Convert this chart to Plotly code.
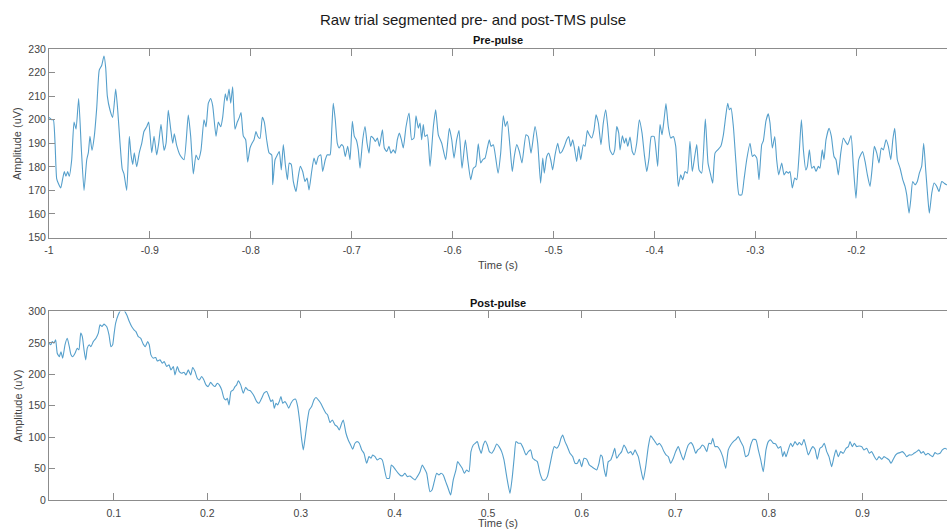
import plotly.graph_objects as go

# ---------------- data ----------------
pre_t = [
    -1.0, -0.9973, -0.9957, -0.994, -0.9924, -0.9908, -0.9884, -0.9864, -0.9848, -0.9832,
    -0.9815, -0.9799, -0.9775, -0.9752, -0.9732, -0.9706, -0.968, -0.9653, -0.9626, -0.961,
    -0.9594, -0.9574, -0.9551, -0.9527, -0.9502, -0.9478, -0.9455, -0.9438, -0.9422, -0.9395,
    -0.9369, -0.9339, -0.9319, -0.9296, -0.9274, -0.9257, -0.923, -0.9204, -0.9187, -0.917,
    -0.9155, -0.9131, -0.9105, -0.9081, -0.9059, -0.9032, -0.9012, -0.8982, -0.8959, -0.8933,
    -0.8913, -0.889, -0.886, -0.884, -0.8818, -0.8794, -0.8774, -0.8758, -0.8734, -0.8702,
    -0.8662, -0.862, -0.8596, -0.857, -0.8543, -0.852, -0.8494, -0.8464, -0.8444, -0.8421,
    -0.8398, -0.8378, -0.8345, -0.8322, -0.8298, -0.8279, -0.8253, -0.8236, -0.8216, -0.8199,
    -0.818, -0.8157, -0.8134, -0.8114, -0.8097, -0.8074, -0.8051, -0.8031, -0.8008, -0.7988,
    -0.7968, -0.7949, -0.7932, -0.7909, -0.7886, -0.7866, -0.7843, -0.782, -0.7793, -0.7783,
    -0.776, -0.7738, -0.7718, -0.7698, -0.7678, -0.7658, -0.7638, -0.7619, -0.7599, -0.7579,
    -0.7552, -0.7532, -0.751, -0.7486, -0.7463, -0.7443, -0.7423, -0.7397, -0.7374, -0.7354,
    -0.7331, -0.7307, -0.7288, -0.7262, -0.7242, -0.7215, -0.7198, -0.7183, -0.7163, -0.7143,
    -0.7123, -0.7103, -0.7084, -0.7064, -0.704, -0.7017, -0.6994, -0.6974, -0.6955, -0.6935,
    -0.6918, -0.6891, -0.6868, -0.6848, -0.6829, -0.6809, -0.6786, -0.6766, -0.6746, -0.6726,
    -0.6696, -0.6677, -0.6653, -0.6631, -0.6611, -0.6588, -0.6568, -0.6548, -0.6528, -0.6508,
    -0.6489, -0.6462, -0.6432, -0.6406, -0.6383, -0.6363, -0.634, -0.6323, -0.6307, -0.6291,
    -0.6274, -0.6251, -0.6224, -0.6191, -0.6168, -0.6142, -0.6108, -0.6069, -0.6033, -0.6009,
    -0.5986, -0.596, -0.5937, -0.5907, -0.5874, -0.585, -0.5821, -0.5795, -0.5771, -0.5746,
    -0.5722, -0.5702, -0.5679, -0.5656, -0.5637, -0.562, -0.5597, -0.5573, -0.555, -0.5524,
    -0.5498, -0.5478, -0.5458, -0.5432, -0.5409, -0.5389, -0.5365, -0.5339, -0.5313, -0.5273,
    -0.525, -0.5223, -0.5184, -0.5157, -0.5128, -0.5107, -0.5092, -0.5068, -0.5048, -0.5028,
    -0.5009, -0.4985, -0.4959, -0.4936, -0.4916, -0.4893, -0.487, -0.485, -0.483, -0.481,
    -0.479, -0.4771, -0.4751, -0.4731, -0.4705, -0.4688, -0.4665, -0.4646, -0.4622, -0.4599,
    -0.4579, -0.4556, -0.453, -0.4507, -0.4483, -0.4463, -0.4441, -0.4414, -0.4394, -0.4374,
    -0.4354, -0.4341, -0.4318, -0.4298, -0.4282, -0.4265, -0.4242, -0.422, -0.42, -0.4176,
    -0.415, -0.4123, -0.41, -0.4076, -0.4054, -0.4031, -0.4004, -0.3985, -0.3968, -0.3945,
    -0.3925, -0.3905, -0.3886, -0.3863, -0.3839, -0.3813, -0.3789, -0.3764, -0.374, -0.372,
    -0.3697, -0.3674, -0.3648, -0.3625, -0.3601, -0.3581, -0.3558, -0.3532, -0.3496, -0.3469,
    -0.3443, -0.3423, -0.34, -0.3373, -0.3343, -0.3317, -0.3294, -0.3274, -0.3258, -0.3241,
    -0.3218, -0.3192, -0.3162, -0.3135, -0.3113, -0.3086, -0.3053, -0.303, -0.301, -0.2986,
    -0.2964, -0.2937, -0.2921, -0.2895, -0.2872, -0.2855, -0.2832, -0.2808, -0.2789, -0.2769,
    -0.2739, -0.2716, -0.2693, -0.2673, -0.2657, -0.2634, -0.261, -0.259, -0.2567, -0.2544,
    -0.2524, -0.2501, -0.2485, -0.2465, -0.2441, -0.2419, -0.2399, -0.2376, -0.236, -0.2337,
    -0.232, -0.23, -0.227, -0.2247, -0.2221, -0.2201, -0.2178, -0.2154, -0.2128, -0.2109,
    -0.2085, -0.2052, -0.2029, -0.2003, -0.1976, -0.1956, -0.1937, -0.1913, -0.189, -0.1864,
    -0.1841, -0.1821, -0.1797, -0.1775, -0.1752, -0.1732, -0.1705, -0.1682, -0.1658, -0.1638,
    -0.1619, -0.1593, -0.1566, -0.1539, -0.1517, -0.15, -0.1477, -0.146, -0.1441, -0.1418,
    -0.1395, -0.1375, -0.1352, -0.1332, -0.1312, -0.1292, -0.1276, -0.1252, -0.1229, -0.1203,
    -0.118, -0.1153, -0.113, -0.1106, -0.105,
]
pre_v = [
    201, 200, 200, 190, 175, 173, 171, 175, 178, 176,
    178, 176, 183, 199, 196, 209, 188, 170, 183, 186,
    193, 187, 193, 205, 221, 223, 227, 222, 210, 204,
    201, 213, 204, 190, 179, 177, 170, 193, 185, 181,
    186, 180, 186, 190, 195, 197, 199, 186, 193, 185,
    190, 198, 187, 190, 204, 196, 190, 194, 189, 185,
    183, 202, 193, 177, 185, 183, 187, 200, 197, 207,
    209, 206, 193, 199, 197, 201, 211, 208, 213, 207,
    214, 196, 199, 201, 203, 193, 191.5, 182, 188, 190,
    191.5, 195, 193, 192, 201, 199, 191.5, 186, 185, 172.4,
    183, 185, 186.5, 178.7, 189.4, 181, 174.5, 181.6, 181, 173.8,
    169.5, 175.2, 180.2, 178, 173.8, 175.2, 170.2, 178, 183.7, 181,
    184.4, 185.1, 178, 183, 185.1, 185.1, 195.7, 207, 200, 190,
    188, 189.4, 188.7, 184.4, 188.7, 183, 199.3, 192.9, 191.5, 187.2,
    179.4, 191.5, 197.1, 190, 185.8, 192.9, 192.2, 190.8, 192.2, 188.7,
    195.7, 188, 186.5, 188.7, 185.8, 187.2, 185.8, 191.5, 194.3, 191.5,
    188, 197, 202.8, 191.5, 192.2, 201.7, 196.4, 198.6, 191.5, 197.9,
    192.9, 193.6, 180.2, 197.1, 204.2, 193.6, 190, 183, 196.4, 191.5,
    183.7, 191.5, 195.4, 179.4, 191.5, 183, 174.5, 179.4, 180.2, 189.8,
    181.6, 183, 183.7, 188, 191.5, 188.7, 189.4, 183.7, 177.3, 185.8,
    201.7, 197.1, 199.3, 188.7, 178, 184.4, 189.4, 186.5, 181.6, 193.6,
    192.9, 185.8, 197.1, 190, 173.1, 183.7, 177.3, 184.4, 185.8, 183,
    178.7, 185.1, 190, 185.8, 186.5, 188.7, 191.5, 192.9, 188.7, 191.5,
    187.2, 182.3, 188.7, 183, 189.4, 188.7, 195.4, 193.6, 192.2, 195.7,
    202.1, 198.6, 189.4, 198.6, 204.2, 197.1, 187.2, 185.1, 187.2, 197.1,
    194.3, 187.2, 193.2, 190, 192.2, 188.7, 192.6, 186.5, 185.1, 190,
    200, 194.3, 185.1, 178, 183.7, 192.9, 192.9, 187.2, 180.2, 197.9,
    193.6, 200, 206.8, 197.1, 192.2, 192.9, 188.7, 171.7, 176.6, 174.5,
    178, 177.3, 190.8, 178, 184.4, 189.4, 178.7, 177.3, 200.3, 181.6,
    176.6, 173.1, 185.8, 187.2, 188.7, 193.6, 201.4, 207, 204.2, 204.9,
    197.1, 181.6, 168.1, 168.1, 174.5, 183, 190, 184.4, 185.1, 183.7,
    174.5, 189.4, 191, 199.5, 202.5, 198.6, 188, 192.9, 183, 176.6,
    181.6, 176.6, 178, 177.3, 178, 171, 175.2, 174.5, 185.1, 200,
    187.2, 178.7, 180.2, 187.2, 179.4, 180.2, 178, 180.2, 179.4, 187.2,
    183, 191.5, 196.4, 192.9, 184.4, 183, 176.6, 185.8, 192.2, 190.8,
    189.4, 193.3, 180.2, 166.7, 183, 185.1, 186.5, 182.3, 176.6, 171.7,
    180.2, 188.7, 185.8, 181.6, 188, 187.2, 191.5, 188.7, 183, 191.5,
    196.4, 183, 179.4, 174.5, 171.7, 168.1, 160.3, 166, 173.8, 172.4,
    173.8, 177.3, 180.2, 190, 178.7, 167.4, 160.3, 168.8, 173.1, 171.7,
    169.5, 173.8, 173.1, 172.4, 174,
]

post_t = [
    0.0309, 0.0327, 0.0344, 0.0362, 0.038, 0.0397, 0.0419, 0.0437, 0.0455, 0.048,
    0.0504, 0.0526, 0.0544, 0.0562, 0.0587, 0.0611, 0.0629, 0.0648, 0.0665, 0.0683,
    0.0701, 0.0718, 0.0739, 0.0757, 0.0782, 0.0811, 0.0836, 0.0854, 0.0875, 0.0896,
    0.0925, 0.095, 0.0971, 0.0989, 0.1003, 0.1021, 0.1049, 0.1075, 0.111, 0.1139,
    0.1167, 0.1192, 0.1217, 0.1238, 0.1263, 0.1288, 0.1316, 0.1338, 0.1363, 0.138,
    0.1398, 0.1423, 0.1449, 0.1466, 0.1495, 0.1519, 0.154, 0.1566, 0.1591, 0.1612,
    0.1637, 0.1655, 0.168, 0.1701, 0.1727, 0.1751, 0.1772, 0.1797, 0.1823, 0.1844,
    0.1869, 0.1893, 0.1915, 0.194, 0.1964, 0.1986, 0.201, 0.2036, 0.2058, 0.2082,
    0.2107, 0.2128, 0.2154, 0.2178, 0.22, 0.2214, 0.2232, 0.2253, 0.2278, 0.2296,
    0.2314, 0.2331, 0.2357, 0.2385, 0.241, 0.2432, 0.2456, 0.2481, 0.2502, 0.2528,
    0.2552, 0.2581, 0.2606, 0.2635, 0.2659, 0.2681, 0.2699, 0.2716, 0.2734, 0.2752,
    0.2769, 0.2787, 0.2806, 0.283, 0.2848, 0.287, 0.2894, 0.2919, 0.2944, 0.2966,
    0.299, 0.3009, 0.3026, 0.3047, 0.3068, 0.309, 0.3115, 0.314, 0.3161, 0.3186,
    0.3212, 0.3239, 0.3268, 0.3286, 0.3311, 0.3336, 0.3364, 0.3389, 0.341, 0.3436,
    0.3453, 0.3482, 0.3506, 0.3532, 0.3553, 0.3578, 0.3603, 0.3624, 0.365, 0.3674,
    0.3703, 0.3728, 0.3749, 0.3767, 0.3792, 0.3816, 0.3845, 0.387, 0.3891, 0.3917,
    0.3945, 0.3966, 0.3987, 0.4013, 0.4041, 0.4066, 0.4088, 0.4112, 0.4137, 0.4166,
    0.4195, 0.4219, 0.4244, 0.4273, 0.4297, 0.4318, 0.4344, 0.4361, 0.4379, 0.4401,
    0.4425, 0.4451, 0.4475, 0.4497, 0.4521, 0.4547, 0.4568, 0.46, 0.4628, 0.4657,
    0.4675, 0.47, 0.4724, 0.4746, 0.4771, 0.4796, 0.4817, 0.4842, 0.4863, 0.4885,
    0.4906, 0.4927, 0.4949, 0.497, 0.4992, 0.5013, 0.5039, 0.5063, 0.5092, 0.5117,
    0.5145, 0.517, 0.5199, 0.5234, 0.5259, 0.528, 0.5298, 0.5323, 0.5348, 0.5376,
    0.5405, 0.543, 0.5455, 0.5477, 0.5501, 0.5526, 0.5555, 0.5583, 0.5608, 0.5633,
    0.5661, 0.5686, 0.5707, 0.5733, 0.5758, 0.5779, 0.5797, 0.5822, 0.5846, 0.5875,
    0.5904, 0.5929, 0.5953, 0.5975, 0.6, 0.6025, 0.6054, 0.6081, 0.6107, 0.6131,
    0.616, 0.6185, 0.6203, 0.622, 0.6238, 0.626, 0.6284, 0.631, 0.6331, 0.6353,
    0.6374, 0.6399, 0.6427, 0.6452, 0.6473, 0.6498, 0.6524, 0.6545, 0.657, 0.6588,
    0.6605, 0.663, 0.6658, 0.6684, 0.6712, 0.6737, 0.6759, 0.6783, 0.6808, 0.6829,
    0.6855, 0.6879, 0.6901, 0.6925, 0.6951, 0.6979, 0.7004, 0.7032, 0.7058, 0.7086,
    0.7114, 0.7139, 0.7168, 0.7192, 0.7218, 0.724, 0.7264, 0.7289, 0.731, 0.7336,
    0.736, 0.7382, 0.74, 0.7424, 0.7449, 0.7478, 0.7507, 0.7539, 0.7566, 0.7592,
    0.762, 0.7649, 0.7673, 0.7699, 0.7727, 0.7752, 0.778, 0.7806, 0.7833, 0.7862,
    0.7887, 0.7913, 0.794, 0.7969, 0.7994, 0.8019, 0.8047, 0.8073, 0.8101, 0.8126,
    0.8148, 0.8165, 0.8183, 0.8207, 0.8233, 0.8254, 0.8279, 0.8304, 0.8325, 0.8351,
    0.8375, 0.8397, 0.8421, 0.8447, 0.8468, 0.8493, 0.8517, 0.8546, 0.8571, 0.8592,
    0.8618, 0.8642, 0.8671, 0.8696, 0.8717, 0.8742, 0.8767, 0.8795, 0.8824, 0.8849,
    0.8867, 0.8891, 0.8913, 0.8938, 0.8963, 0.8992, 0.9016, 0.9045, 0.9073, 0.9098,
    0.9123, 0.9152, 0.9177, 0.9205, 0.923, 0.9259, 0.9283, 0.9305, 0.9329, 0.9355,
    0.9376, 0.9401, 0.9425, 0.9447, 0.9472, 0.9497, 0.9526, 0.955, 0.9579, 0.9604,
    0.9628, 0.965, 0.9675, 0.97, 0.9721, 0.975, 0.9775, 0.9799, 0.9828, 0.9853,
    0.9882, 0.9903, 0.995,
]
post_v = [
    249.6, 247, 252, 249.6, 255, 233.6, 228, 236, 225.7, 247,
    257.5, 244, 231, 228, 233.6, 241.6, 239, 265.5, 260, 239,
    223, 241.6, 247, 244, 252, 257.5, 265.5, 278.8, 276, 279.8,
    276, 262.8, 244, 247, 262.8, 281.4, 294.7, 302, 302, 294.7,
    284, 276, 270.8, 268, 260, 257.5, 248, 244, 252, 247,
    231, 225.7, 226.7, 221.4, 223, 217.7, 220.4, 212.4, 215, 207,
    212.4, 199, 212.4, 204.4, 201.8, 203.4, 199, 207, 199, 210.8,
    204.4, 193.8, 191, 196.5, 191, 183.2, 180.5, 187.4, 183.2, 180.5,
    185.9, 183.2, 175.2, 162, 159.3, 162, 151.3, 172.6, 175.2, 180.5,
    183.2, 189.6, 183.2, 169.9, 179.5, 175.2, 174.2, 169.9, 164.6, 156.6,
    154, 162, 169.9, 172.6, 164.6, 156.6, 159.3, 146, 154, 151.3,
    156.6, 164.6, 154, 156.6, 152.9, 146, 154, 159.3, 160.4, 148.7,
    122.1, 95.6, 79.7, 100.9, 124.8, 143.4, 148.7, 159.3, 163, 159.3,
    154, 146, 138.1, 135.4, 123.2, 127.4, 119.5, 116.8, 111.5, 122.1,
    127.4, 106.2, 95.6, 87.6, 80.7, 90.3, 92.9, 90.3, 79.7, 74.3,
    58.4, 69, 66.4, 71.7, 69, 63.7, 66.4, 63.7, 50.4, 34.5,
    34.5, 55.8, 53.1, 47.8, 42.5, 38.8, 38.8, 42.5, 37.2, 38.2,
    34.5, 31.9, 37.2, 45.1, 55.8, 50.4, 42.5, 26.6, 13.3, 15.9,
    29.2, 42.5, 39.8, 42.5, 39.8, 29.2, 21.2, 8, 31.9, 47.8,
    61.1, 55.8, 50.4, 42.5, 47.8, 45.1, 77, 87.6, 90.3, 92.9,
    82.3, 74.3, 87.6, 94, 87.6, 77, 74.3, 79.7, 89.2, 85,
    77, 63.7, 37.2, 10.6, 37.2, 69, 92.9, 90.3, 90.3, 82.3,
    71.7, 77, 79.7, 66.4, 63.7, 61.1, 42.5, 31.9, 31.9, 37.2,
    55.8, 74.3, 85, 82.3, 87.6, 98.2, 103.5, 92.9, 85, 74.3,
    69, 58.4, 58.4, 64.8, 53.1, 66.4, 64.8, 55.8, 53.1, 50.4,
    47.8, 58.4, 71.7, 69, 50.4, 37.2, 61.1, 63.7, 71.7, 82.3,
    66.4, 71.7, 77, 87.6, 82.3, 74.3, 77, 71.7, 79.7, 74.3,
    69, 50.4, 31.9, 53.1, 85, 102, 98.2, 92.9, 87.6, 90.3,
    85, 77, 71.7, 69, 58.4, 66.4, 77, 85, 74.3, 63.7,
    77, 87.6, 91.3, 86, 74.3, 79.7, 82.3, 87.6, 85, 77,
    90.3, 89.2, 98.2, 85, 85, 79.7, 69, 50.4, 79.7, 87.6,
    92.9, 96.6, 100.9, 92.9, 85, 69, 71.7, 87.6, 96.6, 95.6,
    79.7, 63.7, 45.1, 79.7, 92.9, 95.6, 90.3, 89.2, 82.3, 85,
    69, 77, 69, 79.7, 90.3, 85, 92.9, 87.6, 91.3, 87.6,
    96.6, 85, 71.7, 79.7, 85, 80.7, 64.8, 82.3, 85, 90.3,
    77, 69, 53.1, 69, 79.7, 69, 77, 74.3, 82.3, 85,
    92.9, 85, 90.3, 85, 86, 85, 79.7, 82.3, 74.3, 77,
    70.1, 63.7, 69, 64.8, 69, 66.4, 63.7, 58.4, 64.8, 71.7,
    74.3, 75.4, 77, 74.3, 69, 71.7, 71.7, 74.3, 77, 79.7,
    74.3, 77, 71.7, 74.3, 71.7, 69, 75.4, 73.2, 74.3, 79.7,
    82.3, 80.7, 79,
]

pre_xticks = [-1, -0.9, -0.8, -0.7, -0.6, -0.5, -0.4, -0.3, -0.2]
pre_xlabels = ["-1", "-0.9", "-0.8", "-0.7", "-0.6", "-0.5", "-0.4", "-0.3", "-0.2"]
pre_yticks = [150, 160, 170, 180, 190, 200, 210, 220, 230]
post_xticks = [0.1, 0.2, 0.3, 0.4, 0.5, 0.6, 0.7, 0.8, 0.9]
post_xlabels = ["0.1", "0.2", "0.3", "0.4", "0.5", "0.6", "0.7", "0.8", "0.9"]
post_yticks = [0, 50, 100, 150, 200, 250, 300]

main_title = "Raw trial segmented pre- and post-TMS pulse"
pre_title = "Pre-pulse"
post_title = "Post-pulse"
x_label = "Time (s)"
y_label = "Amplitude (uV)"

# ---------------- style ----------------
LINE = "#559fcb"
AX = "#8c8c8c"
TXT = "#444444"
FONT = "Liberation Sans, Arial, Helvetica, sans-serif"

fig = go.Figure()
fig.add_trace(go.Scatter(x=pre_t, y=pre_v, mode="lines",
                         line=dict(color=LINE, width=1.1, shape="spline", smoothing=0.5),
                         xaxis="x", yaxis="y", showlegend=False, hoverinfo="skip"))
fig.add_trace(go.Scatter(x=post_t, y=post_v, mode="lines",
                         line=dict(color=LINE, width=1.1, shape="spline", smoothing=0.5),
                         xaxis="x2", yaxis="y2", showlegend=False, hoverinfo="skip"))

tickfont = dict(family=FONT, size=10.5, color=TXT)
common = dict(showline=True, linecolor=AX, linewidth=1, ticks="inside",
              tickcolor=AX, tickwidth=1, showgrid=False, zeroline=False,
              tickfont=tickfont, fixedrange=True)

fig.update_layout(
    width=947, height=531,
    margin=dict(l=49, r=0, t=49, b=31),
    paper_bgcolor="white", plot_bgcolor="white",
    xaxis=dict(domain=[0, 1], anchor="y", range=[-1, -0.1101],
               tickmode="array", tickvals=pre_xticks, ticktext=pre_xlabels,
               mirror="ticks", ticklen=7, ticklabelstandoff=3, **common),
    yaxis=dict(domain=[0.582, 1], anchor="x", range=[150, 230],
               tickmode="array", tickvals=pre_yticks, ticklen=6, **common),
    xaxis2=dict(domain=[0, 1], anchor="y2", range=[0.0309, 0.9903],
                tickmode="array", tickvals=post_xticks, ticktext=post_xlabels,
                mirror="ticks", ticklen=7, ticklabelstandoff=3, **common),
    yaxis2=dict(domain=[0, 0.418], anchor="x2", range=[0, 300],
                tickmode="array", tickvals=post_yticks, ticklen=6, **common),
)

ann = [
    dict(text=main_title, x=0.4725, y=1.0665, font=dict(family=FONT, size=15, color="#1a1a1a")),
    dict(text="<b>%s</b>" % pre_title, x=0.5, y=1.020, font=dict(family=FONT, size=11, color="#111")),
    dict(text="<b>%s</b>" % post_title, x=0.5, y=0.4368, font=dict(family=FONT, size=11, color="#111")),
    dict(text=x_label, x=0.5, y=0.522, font=dict(family=FONT, size=11, color=TXT)),
    dict(text=x_label, x=0.5, y=-0.052, font=dict(family=FONT, size=11, color=TXT)),
    dict(text=y_label, x=-0.0351, y=0.7905, textangle=-90, font=dict(family=FONT, size=11, color=TXT)),
    dict(text=y_label, x=-0.0351, y=0.2088, textangle=-90, font=dict(family=FONT, size=11, color=TXT)),
]
for a in ann:
    a.update(xref="paper", yref="paper", xanchor="center", yanchor="middle",
             showarrow=False)
fig.update_layout(annotations=ann)

fig.write_html("out.html", config={"displayModeBar": False})
